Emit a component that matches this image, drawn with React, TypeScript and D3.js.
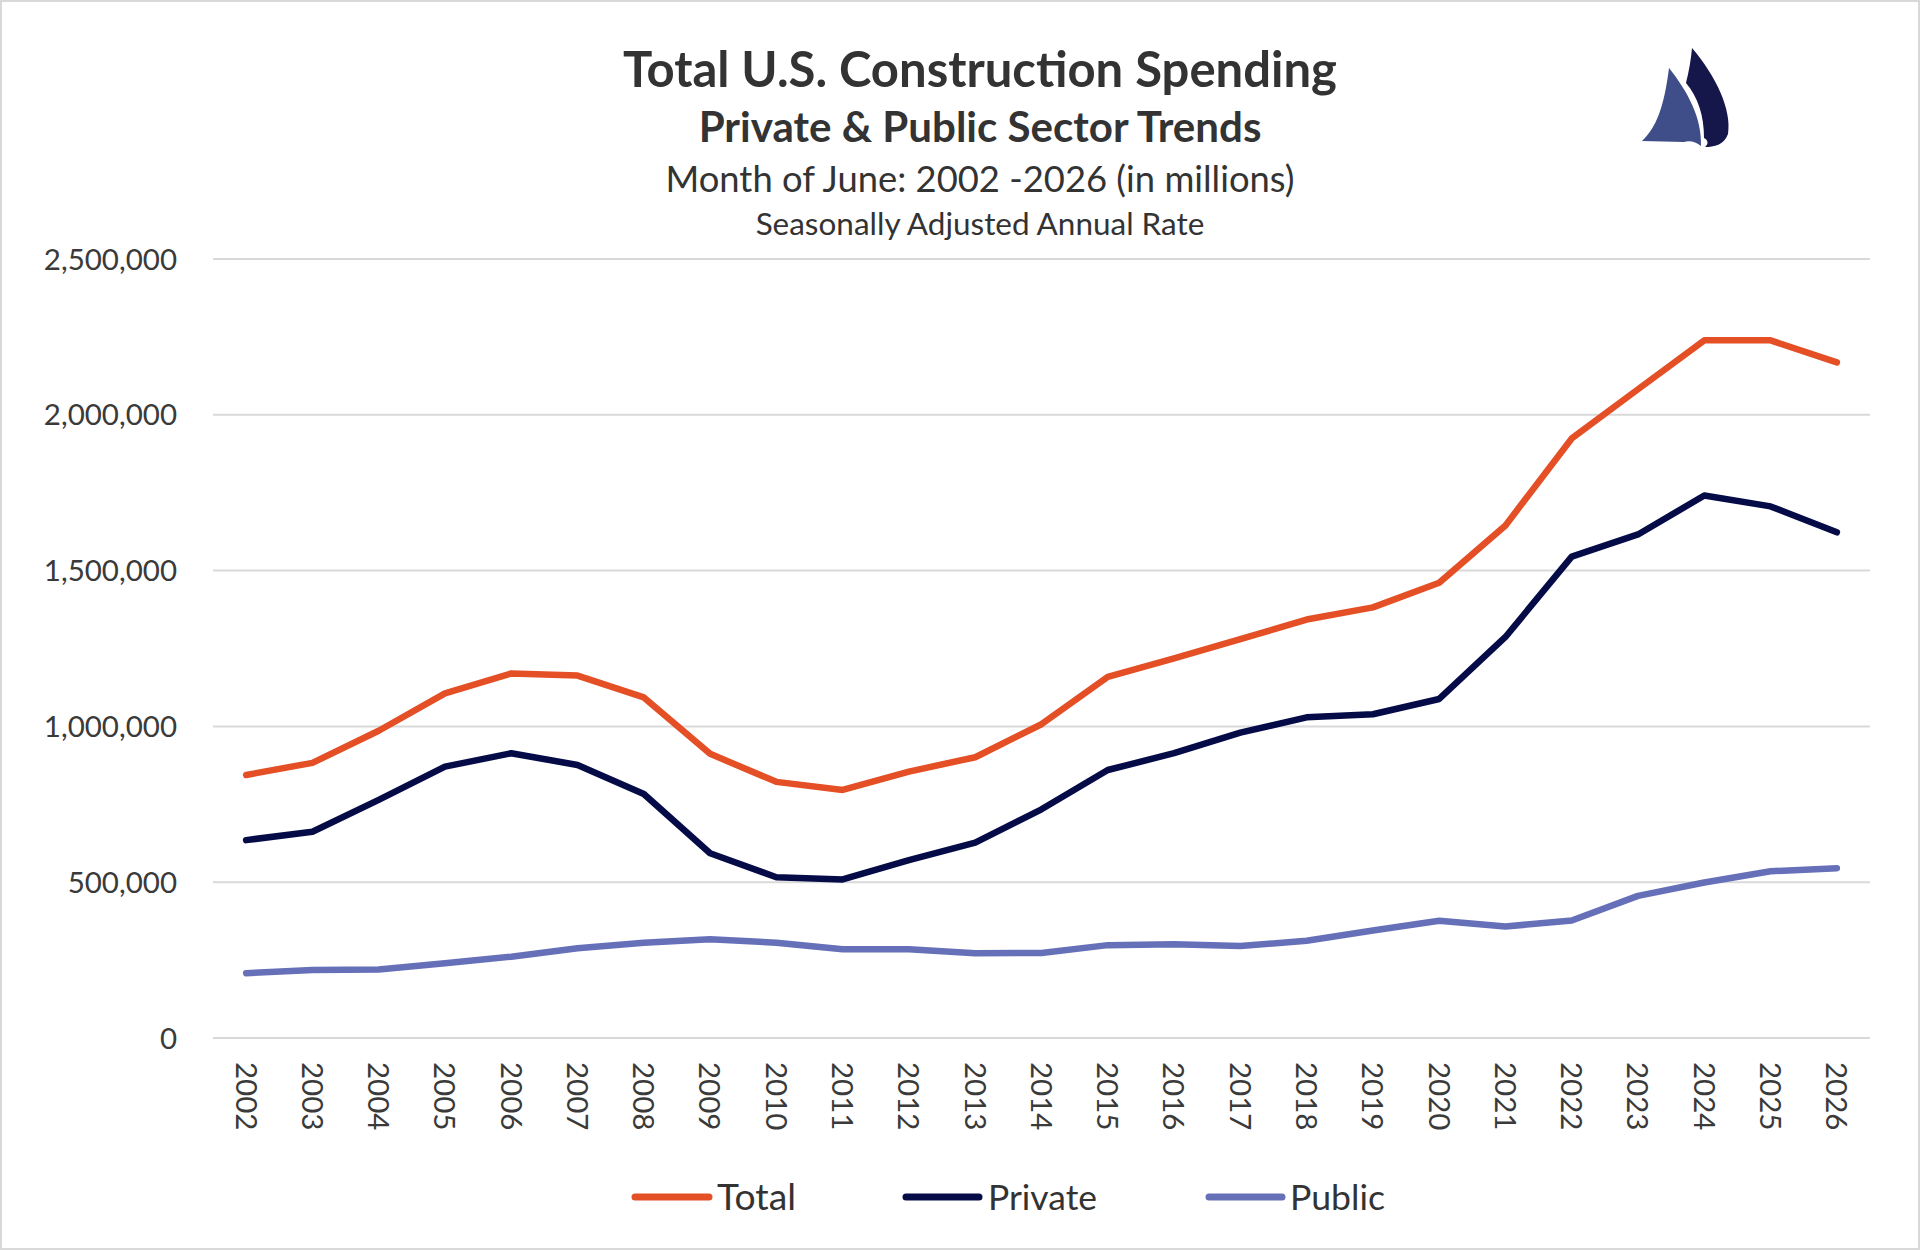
import React, { useEffect, useRef } from "react";
import * as d3 from "d3";

const years = [
  "2002", "2003", "2004", "2005", "2006", "2007", "2008", "2009", "2010", "2011", "2012", "2013",
  "2014", "2015", "2016", "2017", "2018", "2019", "2020", "2021", "2022", "2023", "2024", "2025", "2026",
];

const totalValues = [
  844000, 883000, 986000, 1106000, 1170000, 1163000, 1093000, 912000, 822000, 796000, 855000, 901000,
  1007000, 1159000, 1218000, 1280000, 1343000, 1382000, 1461000, 1645000, 1924000, 2082000, 2239000, 2239000, 2168000,
];

const privateValues = [
  635000, 662000, 764000, 871000, 914000, 876000, 783000, 593000, 516000, 509000, 571000, 627000,
  734000, 860000, 914000, 980000, 1029000, 1039000, 1088000, 1287000, 1545000, 1616000, 1741000, 1706000, 1623000,
];

const publicValues = [
  208000, 218000, 220000, 240000, 261000, 288000, 306000, 317000, 306000, 285000, 285000, 272000,
  273000, 298000, 301000, 295000, 312000, 345000, 376000, 358000, 377000, 456000, 499000, 535000, 545000,
];

const yTicks = [0, 500000, 1000000, 1500000, 2000000, 2500000];

const seriesNames = ["Total", "Private", "Public"];
const seriesColors = ["#E44F26", "#050B47", "#6570B8"];

const titleLines = [
  "Total U.S. Construction Spending",
  "Private & Public Sector Trends",
  "Month of June: 2002 -2026 (in millions)",
  "Seasonally Adjusted Annual Rate",
];

const W = 1920;
const H = 1250;
const FONT = "Lato, 'Open Sans', sans-serif";

export default function App() {
  const svgRef = useRef<SVGSVGElement | null>(null);

  const x = d3.scalePoint<string>().domain(years).range([213, 1870]).padding(0.5);
  const y = d3.scaleLinear().domain([0, 2500000]).range([1038, 259]);
  const fmt = d3.format(",");

  const seriesValues = [totalValues, privateValues, publicValues];
  const line = d3
    .line<number>()
    .x((_, i) => x(years[i]) as number)
    .y((d) => y(d));

  // fit text widths to measured widths in the reference
  useEffect(() => {
    const svg = svgRef.current;
    if (!svg) return;
    d3.select(svg)
      .selectAll<SVGTextElement, unknown>("text[data-fit]")
      .each(function () {
        const target = +(this.getAttribute("data-fit") || 0);
        const fs = parseFloat(this.getAttribute("font-size") || "20");
        const len = this.getComputedTextLength();
        if (len > 0 && target > 0) {
          this.setAttribute("font-size", String((fs * target) / len));
        }
      });
  }, []);

  const titleCx = 980;
  const legendItems = [
    { x1: 632, x2: 712, tx: 717, tw: 79 },
    { x1: 903, x2: 982, tx: 988, tw: 109 },
    { x1: 1206, x2: 1285, tx: 1290, tw: 95 },
  ];

  return (
    <svg
      ref={svgRef}
      width={W}
      height={H}
      viewBox={`0 0 ${W} ${H}`}
      style={{ position: "absolute", left: 0, top: 0, background: "#fff" }}
    >
      <rect x={0} y={0} width={W} height={H} fill="#fff" />
      <rect x={1} y={1} width={W - 2} height={H - 2} fill="none" stroke="#d9d9d9" strokeWidth={2} />

      {/* titles */}
      <g fontFamily={FONT} fill="#333" textAnchor="middle">
        <text x={titleCx} y={87} fontSize={48} fontWeight={700} data-fit={714}>
          {titleLines[0]}
        </text>
        <text x={titleCx} y={142} fontSize={38} fontWeight={700} data-fit={563}>
          {titleLines[1]}
        </text>
        <text x={titleCx} y={192} fontSize={32} fontWeight={400} data-fit={629}>
          {titleLines[2]}
        </text>
        <text x={titleCx} y={235} fontSize={26} fontWeight={400} data-fit={449}>
          {titleLines[3]}
        </text>
      </g>

      {/* logo */}
      <g>
        <path
          d="M1669,68 C1688,92 1702,118 1701,146 C1696,142 1690,140 1684,142 L1642,141 C1656,128 1664,108 1669,68 Z"
          fill="#3F4D88"
        />
        <path
          d="M1692,48 C1716,76 1732,110 1728,134 C1724,145 1714,147 1705,147 C1709,144 1708,140 1704,138 C1704,116 1698,97 1686,83 C1689,71 1691,59 1692,48 Z"
          fill="#15174A"
        />
      </g>

      {/* gridlines & y labels */}
      <g>
        {yTicks.map((t) => (
          <line key={t} x1={213} x2={1870} y1={y(t)} y2={y(t)} stroke="#d9d9d9" strokeWidth={2} />
        ))}
      </g>
      <g fontFamily={FONT} fontSize={29.5} fill="#3a3a3a" textAnchor="end">
        {yTicks.map((t) => (
          <text key={t} x={177} y={y(t)} dy="0.36em">
            {fmt(t)}
          </text>
        ))}
      </g>

      {/* x labels */}
      <g fontFamily={FONT} fontSize={29.5} fill="#3a3a3a">
        {years.map((yr) => (
          <text
            key={yr}
            transform={`translate(${x(yr)},1062) rotate(90)`}
            textAnchor="start"
            dy="0.36em"
          >
            {yr}
          </text>
        ))}
      </g>

      {/* lines: draw public first, then private, then total on top */}
      <g fill="none" strokeLinejoin="round" strokeLinecap="round" strokeWidth={6.5}>
        {[2, 1, 0].map((i) => (
          <path key={seriesNames[i]} d={line(seriesValues[i]) || ""} stroke={seriesColors[i]} />
        ))}
      </g>

      {/* legend */}
      <g fontFamily={FONT} fill="#333">
        {legendItems.map((it, i) => (
          <g key={seriesNames[i]}>
            <line
              x1={it.x1 + 3}
              x2={it.x2 - 3}
              y1={1197}
              y2={1197}
              stroke={seriesColors[i]}
              strokeWidth={7}
              strokeLinecap="round"
            />
            <text x={it.tx} y={1210} fontSize={34} data-fit={it.tw}>
              {seriesNames[i]}
            </text>
          </g>
        ))}
      </g>
    </svg>
  );
}
